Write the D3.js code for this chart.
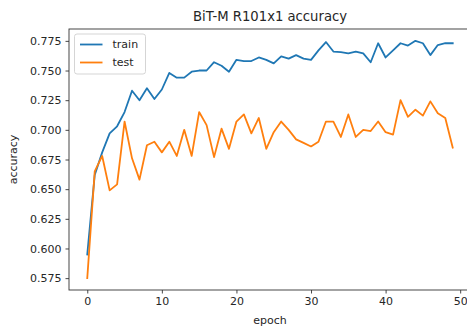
<!DOCTYPE html>
<html>
<head>
<meta charset="utf-8">
<script src="https://cdn.jsdelivr.net/npm/d3@7"></script>
<style>
  html, body { margin: 0; padding: 0; background: #fff; }
  svg { display: block; font-family: "DejaVu Sans", sans-serif; }
</style>
</head>
<body>
<svg id="chart" width="467" height="329"></svg>
<script>
// Per-epoch accuracy for BiT-M R101x1
const epochs = d3.range(0, 50);
const trainAcc = [
  0.595, 0.662, 0.681, 0.697, 0.703, 0.715, 0.733, 0.725, 0.735, 0.726,
  0.734, 0.748, 0.744, 0.744, 0.749, 0.750, 0.750, 0.757, 0.754, 0.749,
  0.759, 0.758, 0.758, 0.761, 0.759, 0.756, 0.762, 0.760, 0.763, 0.760,
  0.759, 0.767, 0.774, 0.766, 0.7655, 0.7645, 0.766, 0.7645, 0.757, 0.773,
  0.761, 0.767, 0.773, 0.771, 0.775, 0.773, 0.763, 0.7715, 0.773, 0.773
];
const testAcc = [
  0.575, 0.665, 0.678, 0.649, 0.654, 0.707, 0.676, 0.658, 0.687, 0.690,
  0.681, 0.690, 0.678, 0.700, 0.678, 0.715, 0.704, 0.677, 0.701, 0.684,
  0.707, 0.713, 0.697, 0.710, 0.684, 0.698, 0.707, 0.700, 0.692, 0.689,
  0.686, 0.690, 0.707, 0.707, 0.694, 0.713, 0.694, 0.700, 0.699, 0.707,
  0.698, 0.696, 0.725, 0.711, 0.717, 0.712, 0.724, 0.714, 0.710, 0.685
];
const xTicks = [0, 10, 20, 30, 40, 50];
const yTicks = [0.575, 0.600, 0.625, 0.650, 0.675, 0.700, 0.725, 0.750, 0.775];

const series = [
  { name: "train", values: trainAcc, color: "#1f77b4" },
  { name: "test",  values: testAcc,  color: "#ff7f0e" }
];

const plot = { left: 69, top: 29, right: 471, bottom: 290 };
const svg = d3.select("#chart");

// Data limits padded by 5% on each side
const xExt = d3.extent(epochs);
const xPad = (xExt[1] - xExt[0]) * 0.05;
const allY = trainAcc.concat(testAcc);
const yExt = d3.extent(allY);
const yPad = (yExt[1] - yExt[0]) * 0.05;

const x = d3.scaleLinear().domain([xExt[0] - xPad, xExt[1] + xPad]).range([plot.left, plot.right]);
const y = d3.scaleLinear().domain([yExt[0] - yPad, yExt[1] + yPad]).range([plot.bottom, plot.top]);

const textColor = "#262626";

// Lines
const line = d3.line().x((d, i) => x(epochs[i])).y(d => y(d));
svg.append("g").selectAll("path").data(series).join("path")
  .attr("d", s => line(s.values))
  .attr("fill", "none")
  .attr("stroke", s => s.color)
  .attr("stroke-width", 1.8)
  .attr("stroke-linejoin", "round")
  .attr("stroke-linecap", "square");

// Frame
svg.append("rect")
  .attr("x", plot.left).attr("y", plot.top)
  .attr("width", plot.right - plot.left).attr("height", plot.bottom - plot.top)
  .attr("fill", "none").attr("stroke", "#333").attr("stroke-width", 0.9);

// Axes
const xAxis = svg.append("g")
  .attr("transform", `translate(0,${plot.bottom})`)
  .call(d3.axisBottom(x).tickValues(xTicks).tickFormat(d3.format("d")).tickSize(3.5).tickPadding(4));
const yAxis = svg.append("g")
  .attr("transform", `translate(${plot.left},0)`)
  .call(d3.axisLeft(y).tickValues(yTicks).tickFormat(d3.format(".3f")).tickSize(3.5).tickPadding(4));
[xAxis, yAxis].forEach(a => {
  a.select(".domain").remove();
  a.selectAll(".tick line").attr("stroke", "#333").attr("stroke-width", 0.9);
  a.selectAll(".tick text").attr("fill", textColor)
    .style("font-family", "DejaVu Sans").style("font-size", "11px");
});

// Axis titles and chart title
svg.append("text")
  .attr("x", (plot.left + plot.right) / 2).attr("y", 324)
  .attr("text-anchor", "middle").attr("fill", textColor)
  .style("font-size", "11px").text("epoch");
svg.append("text")
  .attr("transform", `translate(17,${(plot.top + plot.bottom) / 2}) rotate(-90)`)
  .attr("text-anchor", "middle").attr("fill", textColor)
  .style("font-size", "11px").text("accuracy");
svg.append("text")
  .attr("x", (plot.left + plot.right) / 2).attr("y", 21)
  .attr("text-anchor", "middle").attr("fill", textColor)
  .style("font-size", "13.2px").text("BiT-M R101x1 accuracy");

// Legend
const legend = svg.append("g").attr("transform", `translate(${plot.left + 5.5},${plot.top + 5})`);
legend.append("rect")
  .attr("width", 71).attr("height", 40).attr("rx", 2.5)
  .attr("fill", "#fff").attr("fill-opacity", 0.8)
  .attr("stroke", "#d0d0d0").attr("stroke-width", 0.9);
const items = legend.selectAll("g.item").data(series).join("g")
  .attr("class", "item")
  .attr("transform", (d, i) => `translate(0,${10.5 + i * 18})`);
items.append("line")
  .attr("x1", 5.5).attr("x2", 28)
  .attr("stroke", d => d.color).attr("stroke-width", 1.8);
items.append("text")
  .attr("x", 38).attr("dy", "0.35em")
  .attr("fill", textColor).style("font-size", "11px")
  .text(d => d.name);
</script>
</body>
</html>
